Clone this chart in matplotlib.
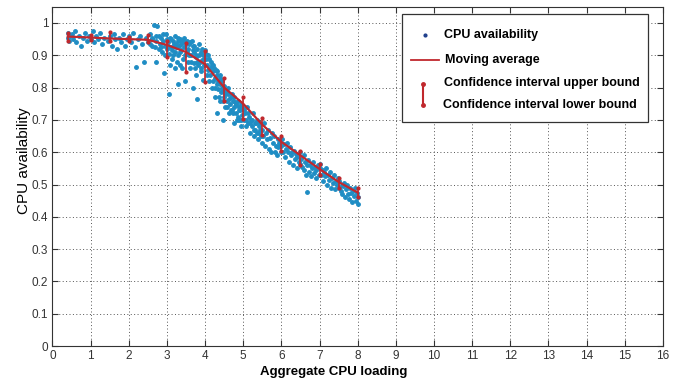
import numpy as np
import matplotlib
matplotlib.use("Agg")
import matplotlib.pyplot as plt
from matplotlib.patches import Rectangle
from matplotlib.lines import Line2D

# Scatter samples (aggregate CPU loading, CPU availability)
samples = [
    (0.40, 0.97), (0.40, 0.955), (0.42, 0.945), (0.45, 0.96), (0.50, 0.965), (0.55, 0.95),
    (0.60, 0.975), (0.62, 0.94), (0.70, 0.96), (0.75, 0.93), (0.80, 0.955), (0.85, 0.97),
    (0.90, 0.945), (0.95, 0.96), (1.00, 0.95),
    (1.05, 0.975), (1.10, 0.94), (1.15, 0.96), (1.20, 0.95), (1.25, 0.97), (1.30, 0.935),
    (1.35, 0.955), (1.45, 0.945), (1.50, 0.96), (1.55, 0.93), (1.60, 0.965), (1.65, 0.95),
    (1.70, 0.92), (1.75, 0.955), (1.80, 0.94), (1.85, 0.965), (1.90, 0.93), (1.95, 0.95),
    (2.00, 0.96),
    (2.05, 0.94), (2.10, 0.97), (2.15, 0.925), (2.20, 0.865), (2.25, 0.95), (2.30, 0.96),
    (2.35, 0.935), (2.40, 0.88), (2.45, 0.955), (2.50, 0.94), (2.55, 0.965), (2.60, 0.93),
    (2.62, 0.95), (2.65, 0.995), (2.70, 0.88), (2.72, 0.945), (2.75, 0.99), (2.78, 0.92),
    (2.80, 0.96), (2.82, 0.935), (2.85, 0.955), (2.88, 0.91), (2.90, 0.945), (2.92, 0.845),
    (2.95, 0.93), (2.97, 0.965), (3.00, 0.92), (3.00, 0.95),
    (2.55, 0.935), (2.60, 0.955), (2.68, 0.925), (2.70, 0.96), (2.85, 0.925), (2.90, 0.965),
    (2.95, 0.90),
    (3.02, 0.94), (3.05, 0.78), (3.05, 0.905), (3.08, 0.955), (3.10, 0.925), (3.12, 0.89),
    (3.15, 0.945), (3.18, 0.935), (3.20, 0.86), (3.20, 0.91), (3.22, 0.96), (3.25, 0.925),
    (3.28, 0.81), (3.28, 0.945), (3.30, 0.90), (3.32, 0.93), (3.35, 0.87), (3.35, 0.95),
    (3.38, 0.915), (3.40, 0.94), (3.42, 0.89), (3.45, 0.925), (3.45, 0.955), (3.48, 0.82),
    (3.50, 0.905), (3.50, 0.935),
    (3.03, 0.93), (3.07, 0.87), (3.10, 0.95), (3.13, 0.915), (3.17, 0.90), (3.23, 0.935),
    (3.27, 0.88), (3.30, 0.955), (3.33, 0.91), (3.37, 0.935), (3.40, 0.86), (3.43, 0.945),
    (3.47, 0.90),
    (3.52, 0.945), (3.55, 0.88), (3.55, 0.92), (3.58, 0.935), (3.60, 0.86), (3.62, 0.90),
    (3.65, 0.945), (3.68, 0.80), (3.68, 0.915), (3.70, 0.875), (3.72, 0.93), (3.75, 0.84),
    (3.75, 0.90), (3.78, 0.765), (3.80, 0.92), (3.82, 0.87), (3.85, 0.90), (3.88, 0.85),
    (3.90, 0.91), (3.92, 0.885), (3.95, 0.825), (3.95, 0.90), (3.98, 0.87), (4.00, 0.915),
    (3.53, 0.91), (3.57, 0.90), (3.60, 0.94), (3.63, 0.88), (3.67, 0.93), (3.70, 0.91),
    (3.73, 0.86), (3.77, 0.895), (3.80, 0.88), (3.83, 0.935), (3.87, 0.88), (3.90, 0.86),
    (3.93, 0.92), (3.97, 0.89),
    (4.02, 0.89), (4.05, 0.84), (4.05, 0.87), (4.08, 0.90), (4.10, 0.82), (4.12, 0.86),
    (4.15, 0.88), (4.18, 0.80), (4.20, 0.85), (4.22, 0.87), (4.25, 0.77), (4.25, 0.83),
    (4.28, 0.855), (4.30, 0.72), (4.30, 0.81), (4.32, 0.84), (4.35, 0.795), (4.38, 0.83),
    (4.40, 0.76), (4.40, 0.81), (4.42, 0.785), (4.45, 0.82), (4.48, 0.70), (4.48, 0.79),
    (4.50, 0.77), (4.50, 0.805),
    (4.03, 0.905), (4.07, 0.855), (4.10, 0.89), (4.13, 0.84), (4.17, 0.87), (4.20, 0.82),
    (4.23, 0.86), (4.27, 0.80), (4.30, 0.85), (4.33, 0.82), (4.37, 0.77), (4.40, 0.84),
    (4.43, 0.80), (4.47, 0.76),
    (4.52, 0.74), (4.55, 0.79), (4.58, 0.76), (4.60, 0.78), (4.62, 0.72), (4.65, 0.75),
    (4.68, 0.77), (4.70, 0.73), (4.72, 0.76), (4.75, 0.69), (4.75, 0.74), (4.78, 0.755),
    (4.80, 0.72), (4.82, 0.745), (4.85, 0.71), (4.88, 0.74), (4.90, 0.70), (4.92, 0.73),
    (4.95, 0.68), (4.95, 0.75), (4.98, 0.715), (5.00, 0.735),
    (4.53, 0.78), (4.57, 0.74), (4.60, 0.80), (4.63, 0.765), (4.67, 0.73), (4.70, 0.78),
    (4.73, 0.72), (4.77, 0.77), (4.80, 0.75), (4.83, 0.70), (4.87, 0.76), (4.90, 0.73),
    (4.93, 0.70), (4.97, 0.74),
    (5.02, 0.70), (5.05, 0.72), (5.08, 0.68), (5.10, 0.74), (5.12, 0.69), (5.15, 0.71),
    (5.18, 0.66), (5.20, 0.70), (5.22, 0.68), (5.25, 0.72), (5.28, 0.65), (5.30, 0.69),
    (5.32, 0.67), (5.35, 0.70), (5.38, 0.64), (5.40, 0.68), (5.42, 0.66), (5.45, 0.69),
    (5.48, 0.63), (5.50, 0.67),
    (5.03, 0.73), (5.07, 0.70), (5.13, 0.72), (5.17, 0.69), (5.23, 0.70), (5.27, 0.67),
    (5.33, 0.69), (5.37, 0.66), (5.43, 0.67), (5.47, 0.65),
    (5.52, 0.65), (5.55, 0.69), (5.58, 0.62), (5.60, 0.66), (5.62, 0.64), (5.65, 0.67),
    (5.68, 0.61), (5.70, 0.645), (5.72, 0.60), (5.75, 0.66), (5.78, 0.63), (5.80, 0.65),
    (5.82, 0.60), (5.85, 0.62), (5.88, 0.59), (5.90, 0.64), (5.92, 0.615), (5.95, 0.63),
    (5.98, 0.60), (6.00, 0.62),
    (6.02, 0.64), (6.05, 0.60), (6.08, 0.625), (6.10, 0.585), (6.12, 0.61), (6.15, 0.63),
    (6.18, 0.60), (6.20, 0.57), (6.22, 0.615), (6.25, 0.59), (6.28, 0.60), (6.30, 0.56),
    (6.32, 0.605), (6.35, 0.58), (6.38, 0.595), (6.40, 0.55), (6.42, 0.585), (6.45, 0.57),
    (6.48, 0.60), (6.50, 0.565),
    (6.52, 0.58), (6.55, 0.555), (6.58, 0.59), (6.60, 0.545), (6.62, 0.57), (6.65, 0.53),
    (6.66, 0.478), (6.68, 0.56), (6.70, 0.575), (6.72, 0.54), (6.75, 0.56), (6.78, 0.525),
    (6.80, 0.55), (6.82, 0.57), (6.85, 0.535), (6.88, 0.555), (6.90, 0.52), (6.92, 0.545),
    (6.95, 0.56), (6.98, 0.53), (7.00, 0.55),
    (7.02, 0.565), (7.05, 0.53), (7.08, 0.545), (7.10, 0.51), (7.12, 0.54), (7.15, 0.525),
    (7.18, 0.55), (7.20, 0.50), (7.22, 0.53), (7.25, 0.515), (7.28, 0.54), (7.30, 0.49),
    (7.32, 0.52), (7.35, 0.505), (7.38, 0.53), (7.40, 0.485), (7.42, 0.51), (7.45, 0.50),
    (7.48, 0.52), (7.50, 0.49),
    (7.52, 0.51), (7.55, 0.48), (7.58, 0.50), (7.60, 0.47), (7.62, 0.495), (7.65, 0.505),
    (7.68, 0.46), (7.70, 0.485), (7.72, 0.50), (7.75, 0.47), (7.78, 0.455), (7.80, 0.49),
    (7.82, 0.475), (7.85, 0.445), (7.88, 0.48), (7.90, 0.465), (7.92, 0.49), (7.95, 0.45),
    (7.98, 0.475), (8.00, 0.44), (8.00, 0.46),
]

# Moving average with confidence interval bounds
ma_x = [0.4, 1.0, 1.5, 2.0, 2.5, 3.0, 3.5, 4.0, 4.5, 5.0, 5.5, 6.0, 6.5, 7.0, 7.5, 8.0]
ma_y = [0.958, 0.955, 0.952, 0.950, 0.948, 0.932, 0.910, 0.872, 0.800, 0.750,
        0.685, 0.632, 0.590, 0.548, 0.508, 0.475]
ci_lo = [0.945, 0.948, 0.945, 0.944, 0.940, 0.896, 0.848, 0.816, 0.760, 0.703,
         0.652, 0.605, 0.560, 0.530, 0.490, 0.460]
ci_hi = [0.970, 0.962, 0.972, 0.956, 0.964, 0.945, 0.938, 0.912, 0.830, 0.770,
         0.705, 0.650, 0.605, 0.565, 0.520, 0.490]

x_ticks = list(range(0, 17))
y_ticks = [round(0.1 * i, 1) for i in range(11)]

BLUE = "#1f8dc4"
RED = "#c0282d"

plt.rcParams["font.family"] = ["Liberation Sans", "DejaVu Sans"]

fig = plt.figure(figsize=(6.73, 3.79), dpi=100)
ax = fig.add_axes([0.078, 0.087, 0.907, 0.895])

sx = [p[0] for p in samples]
sy = [p[1] for p in samples]
ax.plot(sx, sy, linestyle="none", marker=".", markersize=5, color=BLUE, zorder=2)

ax.plot(ma_x, ma_y, color=RED, linewidth=1.6, zorder=3)
ma_arr = np.array(ma_y)
yerr = [ma_arr - np.array(ci_lo), np.array(ci_hi) - ma_arr]
ax.errorbar(ma_x, ma_y, yerr=yerr, fmt="none", ecolor=RED, elinewidth=1.2,
            capsize=0, zorder=3)
ax.plot(ma_x, ci_lo, linestyle="none", marker=".", markersize=4, color=RED, zorder=3)
ax.plot(ma_x, ci_hi, linestyle="none", marker=".", markersize=4, color=RED, zorder=3)

ax.set_xlim(0, 16)
ax.set_ylim(0, 1.05)
ax.set_xticks(x_ticks)
ax.set_yticks(y_ticks)
ax.set_yticklabels(["0"] + [f"{v:g}" for v in y_ticks[1:]])
ax.tick_params(direction="in", top=True, right=True, labelsize=8.5, length=4,
               colors="#333333", pad=3)
ax.grid(True, linestyle=(0, (1, 2.5)), color="#555555", linewidth=0.7)
for s in ax.spines.values():
    s.set_color("#333333")
    s.set_linewidth(0.8)

ax.set_xlabel("Aggregate CPU loading", fontsize=9.5, fontweight="bold")
ax.xaxis.set_label_coords(0.461, -0.058)
ax.set_ylabel("CPU availability", fontsize=11)
ax.yaxis.set_label_coords(-0.036, 0.545)

# legend box drawn by hand so the error bar glyph spans two rows
ax.add_patch(Rectangle((0.5725, 0.661), 0.403, 0.318, transform=ax.transAxes,
                       facecolor="white", edgecolor="#333333", linewidth=0.9, zorder=5))
ax.add_line(Line2D([0.6105], [0.917], transform=ax.transAxes, marker=".",
                   markersize=4, color="#1f3f8c", zorder=6))
ax.add_line(Line2D([0.5865, 0.6335], [0.843, 0.843], transform=ax.transAxes,
                   color=RED, linewidth=1.3, zorder=6))
ax.add_line(Line2D([0.6075, 0.6075], [0.773, 0.711], transform=ax.transAxes,
                   color=RED, linewidth=1.5, marker=".", markersize=5, zorder=6))
legend_rows = [("CPU availability", 0.6410, 0.917),
               ("Moving average", 0.6430, 0.843),
               ("Confidence interval upper bound", 0.6410, 0.775),
               ("Confidence interval lower bound", 0.6395, 0.710)]
for label, lx, ly in legend_rows:
    ax.text(lx, ly, label, transform=ax.transAxes, fontsize=9, fontweight="bold",
            va="center", ha="left", zorder=6)

fig.savefig("out.png", dpi=100)
